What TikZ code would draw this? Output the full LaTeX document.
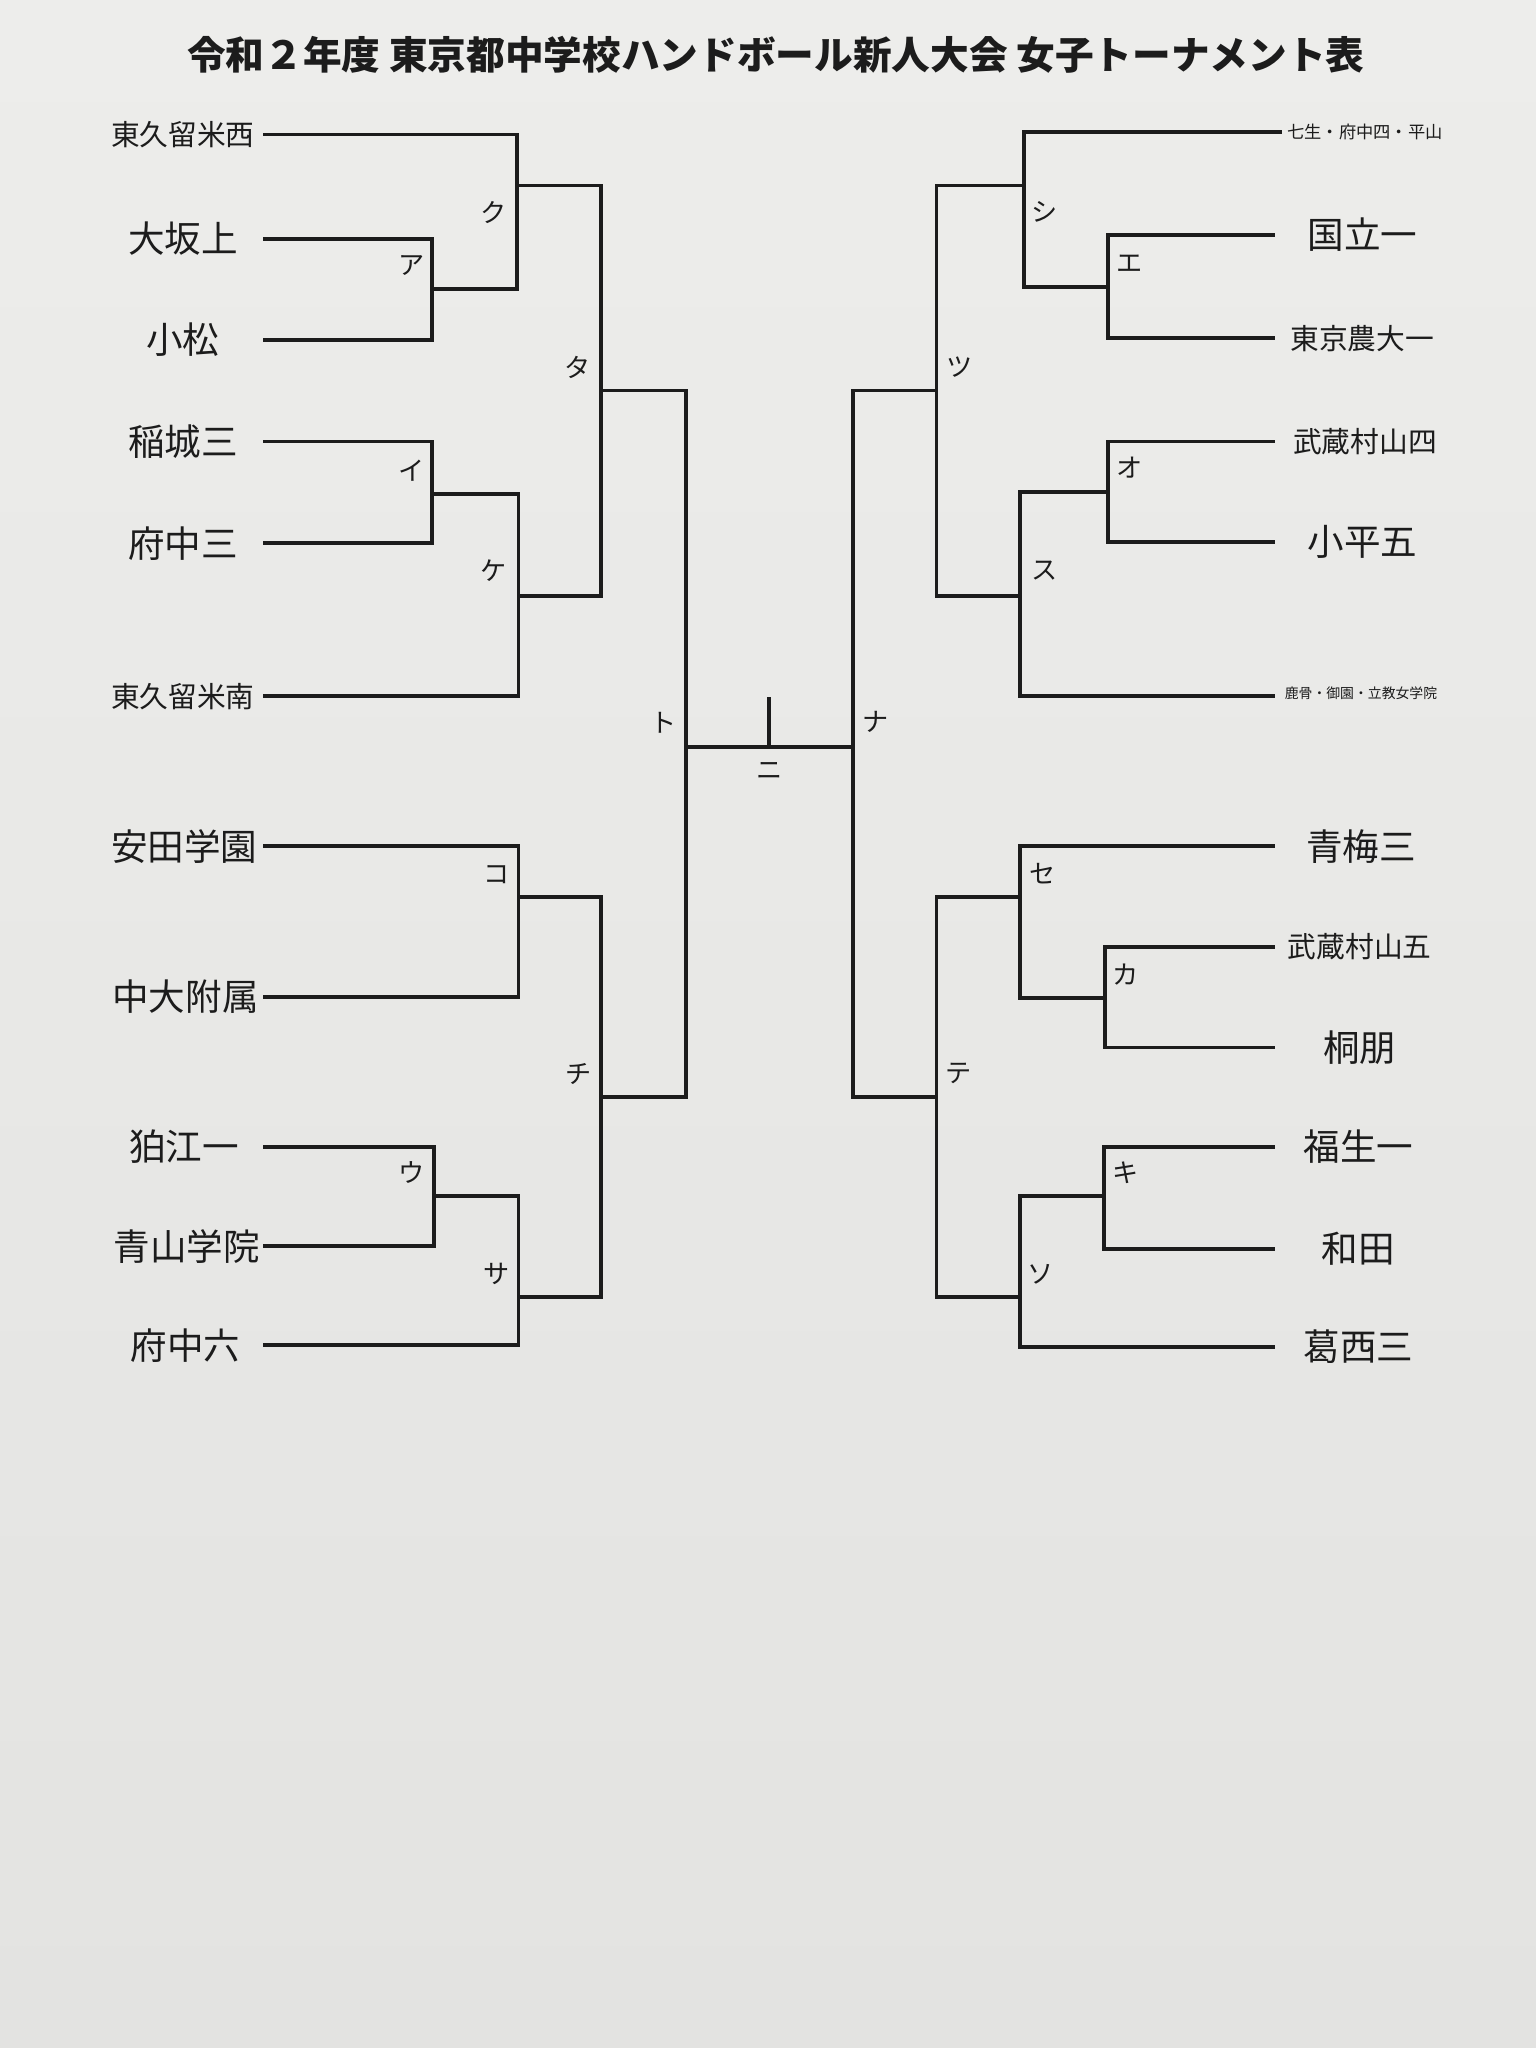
\documentclass[tikz,border=0pt]{standalone}
\usepackage{fontspec}
\setmainfont{Noto Sans CJK JP}
\begin{document}
\begin{tikzpicture}[x=0.5pt,y=-0.5pt,
  br/.style={draw=ink,line width=1.5pt,line cap=rect},
  lname/.style={font=\fontsize{14}{14}\selectfont,text=ink,inner sep=0pt},
  sname/.style={font=\fontsize{11}{11}\selectfont,text=ink,inner sep=0pt},
  tname/.style={font=\fontsize{6.6}{6.6}\selectfont,text=ink,inner sep=0pt},
  kana/.style={font=\fontsize{10}{10}\selectfont,text=ink,inner sep=0pt}]
\definecolor{ink}{RGB}{28,28,28}
\definecolor{bgtop}{RGB}{237,237,235}
\definecolor{bgbot}{RGB}{227,227,225}
\shade[top color=bgtop,bottom color=bgbot] (0,0) rectangle (1176,1568);
\useasboundingbox (0,0) rectangle (1176,1568);
% title
\node[font=\fontsize{14.8}{14.8}\selectfont\bfseries,text=ink,inner sep=0pt] (title) at (594,42) {令和２年度 東京都中学校ハンドボール新人大会 女子トーナメント表};
% left team names
\node[sname] (n1) at (140,103) {東久留米西};
\node[lname] (n2) at (140,183) {大坂上};
\node[lname] (n3) at (140,260) {小松};
\node[lname] (n4) at (140,338) {稲城三};
\node[lname] (n5) at (140,416) {府中三};
\node[sname] (n6) at (140,533) {東久留米南};
\node[lname] (n7) at (141,648) {安田学園};
\node[lname] (n8) at (142,763) {中大附属};
\node[lname] (n9) at (141,878) {狛江一};
\node[lname] (n10) at (143,954) {青山学院};
\node[lname] (n11) at (142,1030) {府中六};
% right team names
\node[tname] (m1) at (1045,101) {七生・府中四・平山};
\node[lname] (m2) at (1043,180) {国立一};
\node[sname] (m3) at (1043,259) {東京農大一};
\node[sname] (m4) at (1045,338) {武蔵村山四};
\node[lname] (m5) at (1043,415) {小平五};
\node[font=\fontsize{5.3}{5.3}\selectfont,text=ink,inner sep=0pt] (m6) at (1042,531) {鹿骨・御園・立教女学院};
\node[lname] (m7) at (1042,648) {青梅三};
\node[sname] (m8) at (1041,725) {武蔵村山五};
\node[lname] (m9) at (1041,802) {桐朋};
\node[lname] (m10) at (1040,878) {福生一};
\node[lname] (m11) at (1040,956) {和田};
\node[lname] (m12) at (1040,1031) {葛西三};
% line ends
\coordinate (L1) at (203,103);
\coordinate (L2) at (203,183);
\coordinate (L3) at (203,260);
\coordinate (L4) at (203,338);
\coordinate (L5) at (203,416);
\coordinate (L6) at (203,533);
\coordinate (L7) at (203,648);
\coordinate (L8) at (203,763);
\coordinate (L9) at (203,878);
\coordinate (L10) at (203,954);
\coordinate (L11) at (203,1030);
\coordinate (R1) at (980,101);
\coordinate (R2) at (975,180);
\coordinate (R3) at (975,259);
\coordinate (R4) at (975,338);
\coordinate (R5) at (975,415);
\coordinate (R6) at (975,533);
\coordinate (R7) at (975,648);
\coordinate (R8) at (975,725);
\coordinate (R9) at (975,802);
\coordinate (R10) at (975,878);
\coordinate (R11) at (975,956);
\coordinate (R12) at (975,1031);
% match points (left)
\coordinate (A) at (331,221);
\coordinate (K) at (396,142);
\coordinate (I) at (331,378);
\coordinate (KE) at (397,456);
\coordinate (TA) at (460,299);
\coordinate (KO) at (397,687);
\coordinate (U) at (332,916);
\coordinate (SA) at (397,993);
\coordinate (CHI) at (460,840);
\coordinate (TO) at (525,572);
% match points (right)
\coordinate (NA) at (653,572);
\coordinate (TSU) at (717,299);
\coordinate (SHI) at (784,142);
\coordinate (E) at (848,220);
\coordinate (SU) at (781,456);
\coordinate (O) at (848,377);
\coordinate (TE) at (717,840);
\coordinate (SE) at (781,687);
\coordinate (KA) at (846,764);
\coordinate (SO) at (781,993);
\coordinate (KI) at (845,916);
\coordinate (NI) at (589,572);
\coordinate (NItop) at (589,535);
% brackets left
\draw[br] (L2) -| (A) |- (L3);
\draw[br] (L1) -| (K) |- (A);
\draw[br] (L4) -| (I) |- (L5);
\draw[br] (I) -| (KE) |- (L6);
\draw[br] (K) -| (TA) |- (KE);
\draw[br] (L7) -| (KO) |- (L8);
\draw[br] (L9) -| (U) |- (L10);
\draw[br] (U) -| (SA) |- (L11);
\draw[br] (KO) -| (CHI) |- (SA);
\draw[br] (TA) -| (TO) |- (CHI);
% center
\draw[br] (TO) -- (NA);
\draw[br] (NI) -- (NItop);
% brackets right
\draw[br] (R2) -| (E) |- (R3);
\draw[br] (R1) -| (SHI) |- (E);
\draw[br] (R4) -| (O) |- (R5);
\draw[br] (O) -| (SU) |- (R6);
\draw[br] (SHI) -| (TSU) |- (SU);
\draw[br] (R8) -| (KA) |- (R9);
\draw[br] (R7) -| (SE) |- (KA);
\draw[br] (R10) -| (KI) |- (R11);
\draw[br] (KI) -| (SO) |- (R12);
\draw[br] (SE) -| (TE) |- (SO);
\draw[br] (TSU) -| (NA) |- (TE);
% match labels
\node[kana] (lk) at (378,163) {ク};
\node[kana] (la) at (315,203) {ア};
\node[kana] (li) at (315,360) {イ};
\node[kana] (lke) at (378,437) {ケ};
\node[kana] (lta) at (442,281) {タ};
\node[kana] (lto) at (508,553) {ト};
\node[kana] (lko) at (380,670) {コ};
\node[kana] (lchi) at (443,822) {チ};
\node[kana] (lu) at (315,898) {ウ};
\node[kana] (lsa) at (380,975) {サ};
\node[kana] (lshi) at (800,162) {シ};
\node[kana] (le) at (865,202) {エ};
\node[kana] (ltsu) at (735,281) {ツ};
\node[kana] (lo) at (865,358) {オ};
\node[kana] (lsu) at (800,437) {ス};
\node[kana] (lna) at (670,553) {ナ};
\node[kana] (lse) at (798,669) {セ};
\node[kana] (lka) at (862,746) {カ};
\node[kana] (lte) at (734,822) {テ};
\node[kana] (lki) at (862,898) {キ};
\node[kana] (lso) at (797,976) {ソ};
\node[kana] (lni) at (589,590) {ニ};
\end{tikzpicture}
\end{document}
